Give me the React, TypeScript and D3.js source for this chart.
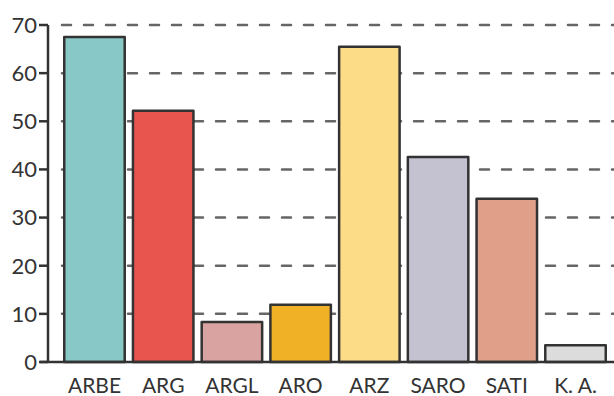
import React, { useEffect, useRef } from 'react';
import * as d3 from 'd3';

const categories = ['ARBE', 'ARG', 'ARGL', 'ARO', 'ARZ', 'SARO', 'SATI', 'K. A.'];
const values = [67.5, 52.2, 8.3, 11.9, 65.5, 42.6, 33.9, 3.5];
const colors = ['#88c9c7', '#e8554e', '#d8a3a1', '#f0b127', '#fddc87', '#c4c2d0', '#df9f88', '#dcdcdc'];
const yTicks = [0, 10, 20, 30, 40, 50, 60, 70];

const App: React.FC = () => {
  const svgRef = useRef<SVGSVGElement>(null);

  useEffect(() => {
    if (!svgRef.current) return;
    const width = 614;
    const height = 396;
    const font = "Lato, 'DejaVu Sans', sans-serif";
    const ink = '#333';

    const svg = d3.select(svgRef.current).attr('width', width).attr('height', height);
    svg.selectAll('*').remove();

    const x = d3.scaleBand<string>()
      .domain(categories)
      .range([56, 614])
      .paddingInner(0.12)
      .paddingOuter(0.12);
    const y = d3.scaleLinear().domain([0, 70]).range([362, 25]);

    // grid
    svg.append('g')
      .selectAll('line')
      .data(yTicks.filter(t => t > 0))
      .enter().append('line')
      .attr('x1', 62).attr('x2', width)
      .attr('y1', d => y(d)).attr('y2', d => y(d))
      .attr('stroke', '#666')
      .attr('stroke-width', 2.5)
      .attr('stroke-linecap', 'round')
      .attr('stroke-dasharray', '9,13');

    // bars
    svg.append('g')
      .selectAll('rect')
      .data(categories)
      .enter().append('rect')
      .attr('x', d => x(d)!)
      .attr('y', (d, i) => y(values[i]))
      .attr('width', x.bandwidth())
      .attr('height', (d, i) => y(0) - y(values[i]))
      .attr('fill', (d, i) => colors[i])
      .attr('stroke', ink)
      .attr('stroke-width', 2.5)
      .attr('stroke-linejoin', 'round');

    // axes
    svg.append('line')
      .attr('x1', 48).attr('x2', 48)
      .attr('y1', y(70)).attr('y2', y(0))
      .attr('stroke', ink).attr('stroke-width', 2.5);
    svg.append('line')
      .attr('x1', 40).attr('x2', width)
      .attr('y1', y(0)).attr('y2', y(0))
      .attr('stroke', ink).attr('stroke-width', 2.5);

    const yt = svg.append('g').selectAll('g').data(yTicks).enter().append('g');
    yt.append('line')
      .attr('x1', 39).attr('x2', 48)
      .attr('y1', d => y(d)).attr('y2', d => y(d))
      .attr('stroke', ink).attr('stroke-width', 2.5);
    yt.append('text')
      .attr('x', 37)
      .attr('y', d => y(d))
      .attr('dy', '0.36em')
      .attr('text-anchor', 'end')
      .attr('font-family', font)
      .attr('font-size', 22)
      .attr('fill', ink)
      .text(d => d);

    svg.append('g')
      .selectAll('text')
      .data(categories)
      .enter().append('text')
      .attr('x', d => x(d)! + x.bandwidth() / 2)
      .attr('y', 393)
      .attr('text-anchor', 'middle')
      .attr('font-family', font)
      .attr('font-size', 21)
      .attr('fill', ink)
      .text(d => d);
  }, []);

  return (
    <div style={{ position: 'absolute', left: 0, top: 0 }}>
      <svg ref={svgRef} style={{ display: 'block' }}></svg>
    </div>
  );
};

export default App;
